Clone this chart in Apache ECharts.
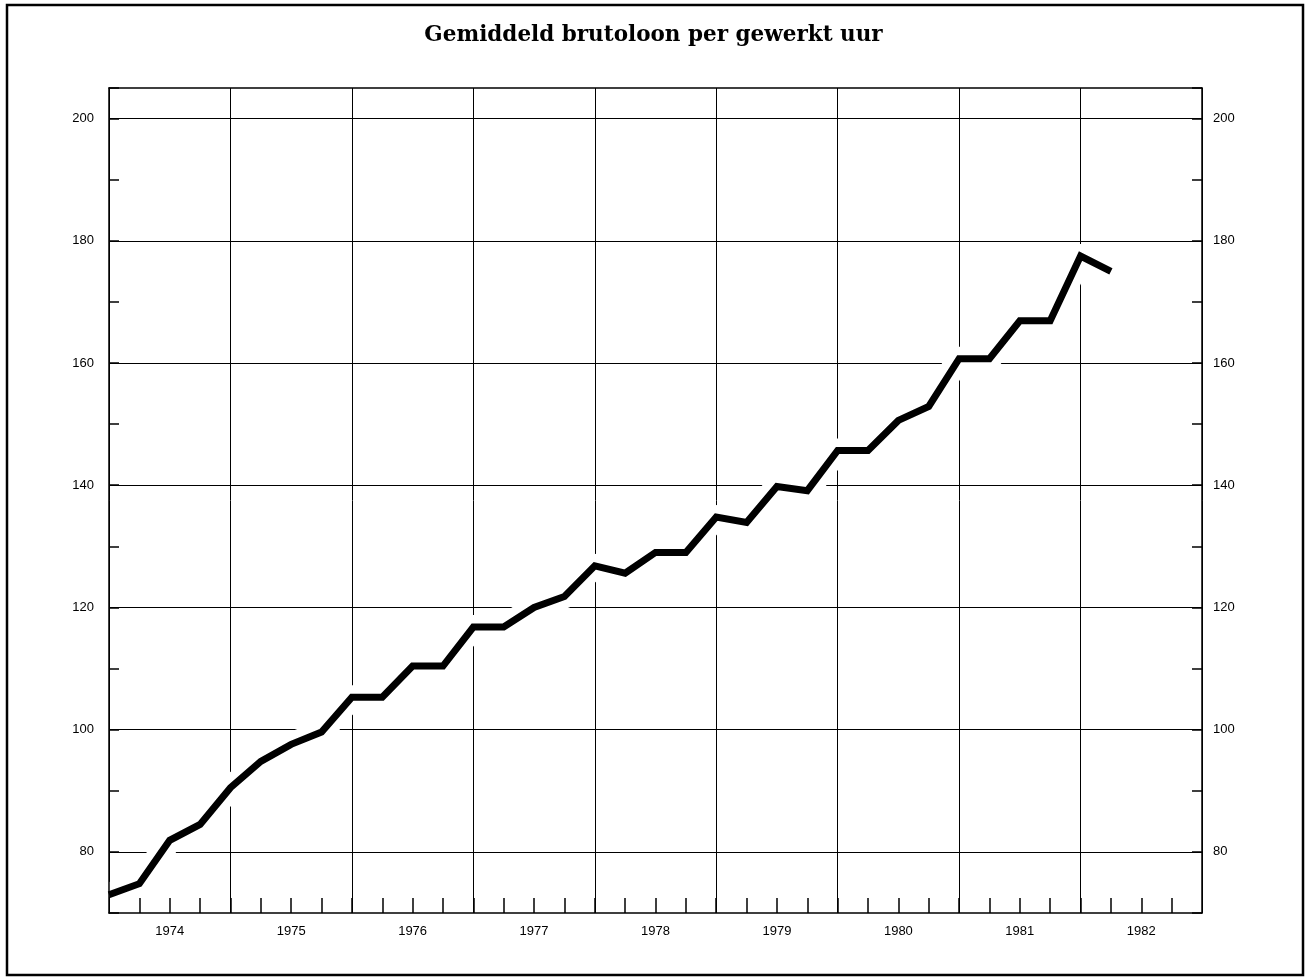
<!DOCTYPE html>
<html>
<head>
<meta charset="utf-8">
<script src="https://cdn.jsdelivr.net/npm/echarts@6/dist/echarts.min.js"></script>
<style>
html,body{margin:0;padding:0;background:#fff;}
#chart{width:1307px;height:977px;}
</style>
</head>
<body>
<div id="chart"></div>
<script>
var titleText = 'Gemiddeld brutoloon per gewerkt uur';
var quarters = [1974.00, 1974.25, 1974.50, 1974.75, 1975.00, 1975.25, 1975.50, 1975.75,
                1976.00, 1976.25, 1976.50, 1976.75, 1977.00, 1977.25, 1977.50, 1977.75,
                1978.00, 1978.25, 1978.50, 1978.75, 1979.00, 1979.25, 1979.50, 1979.75,
                1980.00, 1980.25, 1980.50, 1980.75, 1981.00, 1981.25, 1981.50, 1981.75,
                1982.00, 1982.25];
var wages = [73.0, 74.8, 81.9, 84.5, 90.5, 94.8, 97.6, 99.6,
             105.3, 105.3, 110.4, 110.4, 116.8, 116.8, 120.0, 121.8,
             126.8, 125.6, 129.0, 129.0, 134.8, 133.9, 139.8, 139.1,
             145.7, 145.7, 150.6, 152.9, 160.7, 160.7, 166.9, 166.9,
             177.5, 175.0];
var yearLabels = ['1974', '1975', '1976', '1977', '1978', '1979', '1980', '1981', '1982'];
var yTickLabels = [80, 100, 120, 140, 160, 180, 200];

var X_MIN = 1974, X_MAX = 1983, Y_MIN = 70, Y_MAX = 205;

var chart = echarts.init(document.getElementById('chart'));
var labelFont = {color: '#000', fontSize: 13, fontFamily: 'Liberation Sans, Arial, sans-serif'};

function xLabel(v) {
  var f = v - Math.floor(v);
  if (Math.abs(f - 0.5) < 1e-6) {
    var y = String(Math.floor(v));
    return yearLabels.indexOf(y) >= 0 ? y : '';
  }
  return '';
}
function yLabel(v) {
  var r = Math.round(v);
  return yTickLabels.indexOf(r) >= 0 && Math.abs(v - r) < 1e-6 ? String(r) : '';
}

var data = quarters.map(function (q, i) { return [q, wages[i]]; });

chart.setOption({
  animation: false,
  backgroundColor: '#fff',
  title: {
    text: titleText,
    left: 'center',
    top: 19,
    textStyle: {fontFamily: 'DejaVu Serif, serif', fontWeight: 'bold', fontSize: 21.5, color: '#000'}
  },
  graphic: [{
    type: 'rect',
    shape: {x: 7, y: 5, width: 1296, height: 970},
    style: {fill: 'none', stroke: '#000', lineWidth: 2.5},
    silent: true, z: 100
  }],
  grid: {left: 109, top: 88, width: 1093, height: 825, containLabel: false},
  xAxis: [
    { // vertical grid lines (year boundaries)
      type: 'value', position: 'bottom', min: X_MIN, max: X_MAX, interval: 1, z: 0,
      axisLine: {show: false}, axisTick: {show: false}, axisLabel: {show: false},
      splitLine: {show: true, lineStyle: {color: '#000', width: 1}}
    },
    { // bottom axis with quarterly ticks
      type: 'value', position: 'bottom', min: X_MIN, max: X_MAX, interval: 0.25, z: 10,
      axisLine: {show: true, onZero: false, lineStyle: {color: '#000', width: 1.5}},
      axisTick: {show: true, inside: true, length: 15, lineStyle: {color: '#000', width: 1.5}},
      axisLabel: Object.assign({show: true, margin: 12, formatter: xLabel, showMinLabel: false, showMaxLabel: false}, labelFont),
      splitLine: {show: false}
    },
    { // top border
      type: 'value', position: 'top', min: X_MIN, max: X_MAX, interval: 1, z: 10,
      axisLine: {show: true, onZero: false, lineStyle: {color: '#000', width: 1.5}},
      axisTick: {show: false}, axisLabel: {show: false}, splitLine: {show: false}
    }
  ],
  yAxis: [
    { // horizontal grid lines
      type: 'value', position: 'left', min: Y_MIN, max: Y_MAX, interval: 10, z: 0,
      axisLine: {show: false}, axisTick: {show: false}, axisLabel: {show: false},
      splitLine: {show: true, lineStyle: {color: ['transparent', '#000'], width: 1.2}}
    },
    { // left axis
      type: 'value', position: 'left', min: Y_MIN, max: Y_MAX, interval: 10, z: 10,
      axisLine: {show: true, onZero: false, lineStyle: {color: '#000', width: 1.5}},
      axisTick: {show: true, inside: true, length: 10, lineStyle: {color: '#000', width: 1.5}},
      axisLabel: Object.assign({show: true, margin: 15, formatter: yLabel}, labelFont),
      splitLine: {show: false}
    },
    { // right axis
      type: 'value', position: 'right', min: Y_MIN, max: Y_MAX, interval: 10, z: 10,
      axisLine: {show: true, onZero: false, lineStyle: {color: '#000', width: 1.5}},
      axisTick: {show: true, inside: true, length: 10, lineStyle: {color: '#000', width: 1.5}},
      axisLabel: Object.assign({show: true, margin: 11, formatter: yLabel}, labelFont),
      splitLine: {show: false}
    }
  ],
  series: [
    { // white halo breaking the grid lines around the curve
      type: 'line', xAxisIndex: 0, yAxisIndex: 0, data: data, z: 2,
      symbol: 'none', silent: true,
      lineStyle: {color: '#fff', width: 24, cap: 'butt', join: 'round'}
    },
    {
      type: 'line', xAxisIndex: 0, yAxisIndex: 0, data: data, z: 5,
      symbol: 'none',
      lineStyle: {color: '#000', width: 7, cap: 'butt', join: 'miter'}
    }
  ]
});
</script>
</body>
</html>
